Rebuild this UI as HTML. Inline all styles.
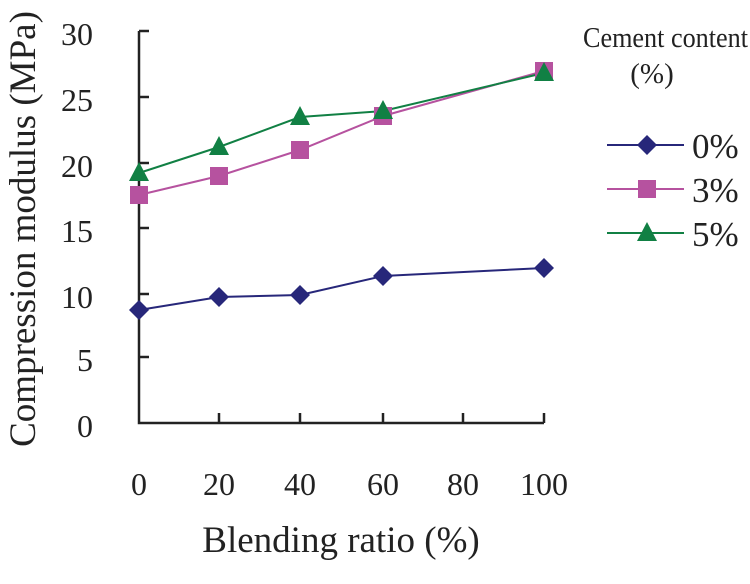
<!DOCTYPE html>
<html><head><style>body{margin:0;background:#fff}svg{display:block}</style></head><body>
<svg width="750" height="584" xmlns="http://www.w3.org/2000/svg" font-family="Liberation Serif, serif" fill="#222">
<g stroke="#222" stroke-width="2.5" fill="none">
<polyline points="139,31 139,423 544,423"/>
<line x1="139" y1="31" x2="149" y2="31"/><line x1="139" y1="97" x2="149" y2="97"/><line x1="139" y1="163" x2="149" y2="163"/><line x1="139" y1="228" x2="149" y2="228"/><line x1="139" y1="294" x2="149" y2="294"/><line x1="139" y1="357" x2="149" y2="357"/>
<line x1="219" y1="423" x2="219" y2="413"/><line x1="300" y1="423" x2="300" y2="413"/><line x1="383" y1="423" x2="383" y2="413"/><line x1="463" y1="423" x2="463" y2="413"/><line x1="544" y1="423" x2="544" y2="413"/>
</g>
<g font-size="32" text-anchor="end">
<text x="93" y="45">30</text><text x="93" y="111">25</text><text x="93" y="177">20</text><text x="93" y="242">15</text><text x="93" y="308">10</text><text x="93" y="371">5</text><text x="93" y="437">0</text>
</g>
<g font-size="32" text-anchor="middle">
<text x="139" y="495">0</text><text x="219" y="495">20</text><text x="300" y="495">40</text><text x="383" y="495">60</text><text x="463" y="495">80</text><text x="544" y="495">100</text>
</g>
<text x="341" y="552" font-size="37" text-anchor="middle">Blending ratio (%)</text>
<text transform="translate(35,229) rotate(-90)" font-size="37" text-anchor="middle">Compression modulus (MPa)</text>
<text x="583" y="47" font-size="29" textLength="165" lengthAdjust="spacingAndGlyphs">Cement content</text>
<text x="652" y="83" font-size="29" text-anchor="middle">(%)</text>
<polyline points="139,310 219,297 300,295 383,276 544,268" fill="none" stroke="#27277a" stroke-width="2"/>
<polyline points="139,195 219,176 300,150 383,116 544,71" fill="none" stroke="#b6529f" stroke-width="2"/>
<polyline points="139,173 219,147 300,117 383,111 544,73" fill="none" stroke="#118044" stroke-width="2"/>
<g fill="#27277a">
<polygon points="139,300 149,310 139,320 129,310"/><polygon points="219,287 229,297 219,307 209,297"/><polygon points="300,285 310,295 300,305 290,295"/><polygon points="383,266 393,276 383,286 373,276"/><polygon points="544,258 554,268 544,278 534,268"/>
<polygon points="647,135 657,145 647,155 637,145"/>
</g>
<g fill="#b6529f">
<rect x="130" y="186" width="18" height="18"/><rect x="210" y="167" width="18" height="18"/><rect x="291" y="141" width="18" height="18"/><rect x="374" y="107" width="18" height="18"/><rect x="535" y="62" width="18" height="18"/>
<rect x="638" y="180" width="18" height="18"/>
</g>
<g fill="#118044">
<polygon points="139,162 149,181 129,181"/><polygon points="219,136 229,155 209,155"/><polygon points="300,106 310,125 290,125"/><polygon points="383,100 393,119 373,119"/><polygon points="544,62 554,81 534,81"/>
<polygon points="647,222 657,241 637,241"/>
</g>
<line x1="607" y1="145" x2="684" y2="145" stroke="#27277a" stroke-width="2"/>
<line x1="607" y1="189" x2="684" y2="189" stroke="#b6529f" stroke-width="2"/>
<line x1="607" y1="233" x2="684" y2="233" stroke="#118044" stroke-width="2"/>
<g font-size="35"><text x="692" y="158">0%</text><text x="692" y="202">3%</text><text x="692" y="246">5%</text></g>
</svg>
</body></html>
